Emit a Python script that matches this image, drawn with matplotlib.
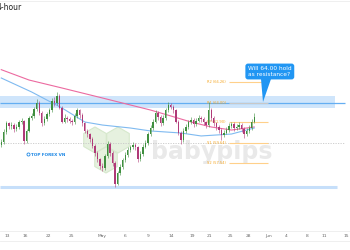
import matplotlib
matplotlib.use('Agg')
import matplotlib.pyplot as plt
from matplotlib.patches import Polygon, RegularPolygon
from matplotlib.lines import Line2D

# 4-hour candles (price), opens follow the previous close
closes = [59.8, 60.9, 61.8, 61.5, 61.6, 61.2, 61.4, 61.9, 62.1, 59.9,
          61.0, 62.4, 62.6, 63.3, 64.0, 62.9, 61.8, 62.3, 62.8, 63.2,
          64.2, 64.0, 64.8, 63.5, 62.0, 62.4, 62.3, 62.1, 61.9, 62.6,
          63.2, 62.7, 61.8, 61.0, 60.6, 60.1, 59.4, 58.6, 57.9, 57.2,
          57.0, 58.3, 59.6, 58.6, 57.5, 55.3, 56.4, 57.1, 57.8, 58.4,
          58.9, 59.2, 59.5, 59.2, 57.9, 58.5, 59.3, 59.7, 60.6, 61.3,
          62.0, 62.9, 62.5, 61.8, 62.4, 63.2, 63.8, 63.6, 63.2, 62.0,
          60.8, 60.0, 61.0, 61.4, 61.9, 62.2, 61.7, 62.1, 62.4, 62.3,
          61.9, 61.6, 63.2, 62.4, 61.8, 61.4, 61.1, 60.5, 60.8, 61.1,
          61.5, 61.7, 61.3, 61.4, 61.6, 61.2, 60.6, 61.0, 61.3, 62.0, 62.5]
highs = [60.1, 61.2, 62.1, 62.0, 61.9, 61.8, 61.7, 62.2, 62.4, 62.2,
         61.2, 62.6, 62.9, 63.6, 64.4, 64.2, 63.1, 62.6, 63.0, 63.5,
         64.5, 64.6, 65.2, 65.0, 63.7, 62.8, 62.6, 62.5, 62.3, 62.9,
         63.5, 63.4, 62.9, 62.0, 61.2, 60.8, 60.3, 59.6, 58.8, 58.1,
         57.5, 58.5, 59.9, 59.8, 58.8, 57.7, 56.7, 57.4, 58.1, 58.7,
         59.2, 59.5, 59.8, 59.7, 59.4, 58.8, 59.6, 60.0, 60.9, 61.6,
         62.3, 63.2, 63.1, 62.7, 62.7, 63.5, 64.1, 64.0, 63.8, 63.4,
         62.2, 61.0, 61.3, 61.7, 62.2, 62.5, 62.4, 62.4, 62.7, 62.6,
         62.5, 62.1, 64.1, 63.5, 62.6, 62.0, 61.6, 61.3, 61.1, 61.4,
         61.8, 62.0, 61.9, 61.7, 61.9, 61.8, 61.4, 61.3, 61.6, 62.3, 62.9]
lows = [59.3, 59.6, 60.7, 61.2, 61.2, 60.9, 61.0, 61.2, 61.7, 59.6,
        59.7, 60.9, 62.2, 62.4, 63.1, 62.7, 61.5, 61.6, 62.1, 62.6,
        63.0, 63.7, 63.8, 63.3, 61.8, 61.8, 62.0, 61.8, 61.6, 61.7,
        62.4, 62.4, 61.5, 60.8, 60.3, 59.8, 59.1, 58.3, 57.6, 56.9,
        56.7, 56.8, 58.1, 58.3, 57.2, 54.9, 55.1, 56.2, 56.9, 57.6,
        58.2, 58.7, 59.0, 58.9, 57.6, 57.7, 58.3, 59.1, 59.5, 60.4,
        61.1, 61.8, 62.2, 61.5, 61.6, 62.2, 63.0, 63.3, 62.9, 61.8,
        60.5, 59.6, 59.8, 60.8, 61.2, 61.7, 61.4, 61.5, 61.9, 62.0,
        61.6, 61.3, 61.4, 62.1, 61.5, 61.1, 60.8, 60.0, 60.3, 60.6,
        60.9, 61.3, 61.0, 61.1, 61.2, 60.9, 60.2, 60.4, 60.8, 61.1, 61.8]
first_open = 59.5

# moving averages read at a few bars
ma_bars = [0, 11, 24, 40, 59, 67, 75, 83, 91, 100]
ma_pink = [67.6, 66.48, 65.62, 64.54, 63.24, 62.60, 61.95, 61.41, 61.08, 61.41]
ma_blue_bars = [0, 12, 24, 33, 40, 51, 59, 71, 79, 91, 100]
ma_blue = [66.70, 65.19, 63.46, 61.95, 61.62, 61.30, 60.98, 60.76, 60.44, 60.65, 61.30]

# pivot levels
pivot_names = ['R2', 'R1', 'PP', 'S1', 'S2']
pivot_values = [66.26, 64.00, 61.90, 59.64, 57.54]

resistance = 64.05
resistance_zone = (63.45, 64.75)
support = 54.93

tick_labels = ['13', '16', '22', '25', 'May', '6', '9', '14', '19', '21',
               '25', '28', 'Jun', '4', '8', '11', '15']
tick_px = [7, 25, 48, 71, 102, 125, 148, 171, 192, 209, 230, 248, 269, 286, 307, 324, 346]

W, H = 350, 250
SP = 2.53  # pixels per bar


def bx(px):
    return px / SP - 0.5


def py(y):
    return 64.0 - (y - 103) * 0.108


fig = plt.figure(figsize=(3.5, 2.5), dpi=100)
fig.patch.set_facecolor('white')
ax = fig.add_axes([0, 19 / H, 1, 231 / H])
ax.set_xlim(bx(0), bx(W))
ax.set_ylim(py(231), py(0))
ax.axis('off')

# watermark
for cx, cy in [(95, 140), (118, 140), (106, 160)]:
    fig.add_artist(RegularPolygon((cx / 100, (H - cy) / 100), 6, radius=0.13,
                                  transform=fig.dpi_scale_trans, facecolor='#e6f1df',
                                  edgecolor='#d6e8cc', lw=0.8, zorder=0))
ax.text(bx(212), py(152), 'babypips', ha='center', va='center', fontsize=17,
        fontweight='bold', color='#e9e9e9', zorder=0)
ax.text(bx(31), py(155), 'TOP FOREX VN', ha='left', va='center', fontsize=3.0,
        fontweight='bold', color='#1e88e5', zorder=1)
ax.plot([bx(28)], [py(154)], marker='o', ms=2.2, mfc='none', mec='#1e88e5', mew=0.6)

# levels
ax.axhspan(resistance_zone[0], resistance_zone[1], xmin=0, xmax=335 / W,
           color='#cfe5fb', zorder=1, lw=0)
ax.hlines(resistance, bx(0), bx(345), color='#64aef2', lw=0.9, zorder=2)
ax.hlines(support, bx(0), bx(337), color='#c6dffa', lw=2.2, zorder=2)
ax.hlines(pivot_values[3], bx(0), bx(345), color='#c8c8c8', lw=0.6,
          linestyles=(0, (1.5, 1.5)), zorder=1)

for name, val in zip(pivot_names, pivot_values):
    col = '#c8c8c8' if name == 'R1' else '#ffd08a'
    ax.hlines(val, bx(229), bx(268), color=col, lw=0.8, zorder=2)
    ax.text(bx(226), val, '%s (%.2f)' % (name, val), ha='right', va='center',
            fontsize=2.6, color='#f5a623', zorder=3)

# moving averages
ax.plot(ma_bars, ma_pink, color='#ec6aa0', lw=0.8, zorder=3)
ax.plot(ma_blue_bars, ma_blue, color='#7fbaf0', lw=0.8, zorder=3)

# candles
opens = [first_open] + closes[:-1]
for i, (o, c, h, l) in enumerate(zip(opens, closes, highs, lows)):
    col = '#3f8f3f' if c >= o else '#b03a78'
    ax.vlines(i, l, h, color=col, lw=0.4, zorder=4)
    ax.bar(i, abs(c - o) if abs(c - o) > 0.05 else 0.05, bottom=min(o, c),
           width=0.55, color=col, lw=0, zorder=5)

# callout
ax.add_patch(Polygon([(bx(261), py(79)), (bx(271), py(79)), (bx(263), py(102))],
                     closed=True, facecolor='#2196f3', edgecolor='none', zorder=6))
ax.text(bx(248), py(71.5), 'Will 64.00 hold\nas resistance?', ha='left', va='center',
        fontsize=4.2, color='white', linespacing=1.15, zorder=7,
        bbox=dict(boxstyle='round,pad=0.45', fc='#2196f3', ec='none'))

# bottom date strip
for yl in (231, 241):
    fig.add_artist(Line2D([0, 1], [(H - yl) / H] * 2, color='#ececec', lw=0.6))
for lab, px in zip(tick_labels, tick_px):
    fig.text(px / W, (H - 236) / H, lab, ha='center', va='center', fontsize=3.2,
             color='#666666')

fig.add_artist(Line2D([0, 1], [1 - 0.5 / H] * 2, color='#ececec', lw=0.6))
fig.text(-3.5 / W, 1 - 8 / H, '4-hour', ha='left', va='center', fontsize=5.5,
         color='#222222')

fig.savefig('out.png', dpi=100)
